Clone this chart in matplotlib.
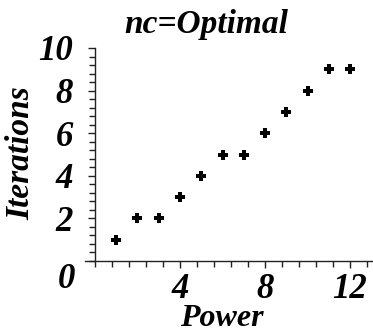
import matplotlib.pyplot as plt
from matplotlib.ticker import MultipleLocator

power = [1, 2, 3, 4, 5, 6, 7, 8, 9, 10, 11, 12]
iterations = [1, 2, 2, 3, 4, 5, 5, 6, 7, 8, 9, 9]
x_ticks = [4, 8, 12]
y_ticks = [2, 4, 6, 8, 10]

font = dict(family='Liberation Serif', weight='bold', style='italic')

fig = plt.figure(figsize=(3.73, 3.34), dpi=100)
ax = fig.add_axes([85 / 373, 73 / 334, 288 / 373, 213 / 334])

ax.plot(power, iterations, linestyle='none', marker='P', markersize=6.5,
        color='black', markeredgewidth=0)

ax.set_xlim(-0.47, 13.08)
ax.set_ylim(0, 10)

ax.spines['left'].set_position(('data', 0))
ax.spines['bottom'].set_position(('data', 0))
ax.spines['right'].set_visible(False)
ax.spines['top'].set_visible(False)
for s in ('left', 'bottom'):
    ax.spines[s].set_linewidth(1.0)
    ax.spines[s].set_color('#222222')

ax.set_xticks(x_ticks)
ax.set_yticks(y_ticks)
ax.xaxis.set_minor_locator(MultipleLocator(0.8))
ax.yaxis.set_minor_locator(MultipleLocator(0.4))
ax.tick_params(axis='both', which='both', direction='out', color='#222222', width=1.0)
ax.tick_params(axis='both', which='major', length=5)
ax.tick_params(axis='both', which='minor', length=4)
ax.tick_params(axis='y', which='major', pad=11)
ax.tick_params(axis='x', which='major', pad=4)

ax.set_xticklabels([str(v) for v in x_ticks], fontsize=25, **font)
ax.set_yticklabels([str(v) for v in y_ticks], fontsize=25, **font)

fig.text(66 / 373, 1 - 280 / 334, '0', fontsize=25, ha='center', va='center', **font)
fig.text(206 / 373, 1 - 25 / 334, 'nc=Optimal', fontsize=24, ha='center', va='center', **font)
fig.text(222 / 373, 1 - 333 / 334, 'Power', fontsize=23, ha='center', va='bottom', **font)
fig.text(21 / 373, 1 - 153 / 334, 'Iterations', fontsize=24, ha='center', va='center',
         rotation=90, **font)

fig.savefig('out.png', dpi=100)
